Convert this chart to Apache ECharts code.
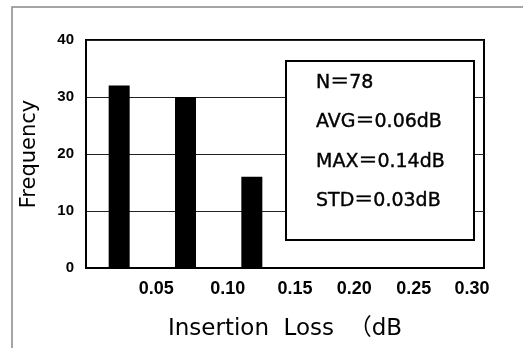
<!DOCTYPE html>
<html>
<head>
<meta charset="utf-8">
<script src="https://cdn.jsdelivr.net/npm/echarts@6/dist/echarts.min.js"></script>
<style>html,body{margin:0;padding:0;background:#fff}#c{width:523px;height:348px}</style>
</head>
<body>
<div id="c"></div>
<script>
var binCenters = [0.025, 0.075, 0.125];
var frequencies = [32, 30, 16];
var xTicks = [0.05, 0.10, 0.15, 0.20, 0.25, 0.30];
var yTicks = [0, 10, 20, 30, 40];
var statsLines = ['N＝78', 'AVG＝0.06dB', 'MAX＝0.14dB', 'STD＝0.03dB'];
var xTitle = 'Insertion  Loss  （dB';
var yTitle = 'Frequency';

// small horizontal nudges of the printed tick labels (scan distortion in the source)
var labelNudge = [4, 9, 10, 3, -4, -12];

var chart = echarts.init(document.getElementById('c'), null, {renderer: 'canvas'});
var barData = binCenters.map(function (c, i) { return [c, frequencies[i]]; });

var rich = {};
labelNudge.forEach(function (n, i) {
  rich['p' + i] = {
    color: '#000', fontSize: 18, fontWeight: 'bold', fontFamily: '"Liberation Sans", Arial, sans-serif',
    padding: n >= 0 ? [0, 0, 0, 2 * n] : [0, -2 * n, 0, 0]
  };
});

var graphics = [
  {type: 'rect', shape: {x: 12, y: 7, width: 600, height: 400}, style: {fill: 'none', stroke: '#888', lineWidth: 1.5}, z: 1},
  {type: 'rect', shape: {x: 286, y: 61, width: 188, height: 179}, style: {fill: '#fff', stroke: '#000', lineWidth: 2}, z: 100}
];
var lineYs = [83, 122, 162, 201];
statsLines.forEach(function (t, i) {
  graphics.push({type: 'text', x: 316, y: lineYs[i], z: 101,
    style: {text: t, fill: '#000', stroke: '#000', lineWidth: 0.4, font: '19px "DejaVu Sans", "Noto Sans CJK JP", sans-serif', textVerticalAlign: 'middle', verticalAlign: 'middle'}});
});

chart.setOption({
  animation: false,
  backgroundColor: '#fff',
  grid: {left: 86, right: 39, top: 40, bottom: 80, show: true, borderColor: '#000', borderWidth: 2, backgroundColor: 'transparent'},
  xAxis: {
    type: 'value', min: 0, max: 0.30, interval: 0.05,
    name: xTitle, nameLocation: 'middle', nameGap: 50,
    nameTextStyle: {fontSize: 23, color: '#000', fontFamily: '"DejaVu Sans", "Noto Sans CJK JP", sans-serif'},
    axisLine: {show: true, lineStyle: {color: '#000', width: 2}},
    axisTick: {show: false},
    splitLine: {show: false},
    axisLabel: {color: '#000', fontSize: 18, fontWeight: 'bold', fontFamily: '"Liberation Sans", Arial, sans-serif', margin: 12,
      rich: rich,
      formatter: function (v) {
        for (var i = 0; i < xTicks.length; i++) {
          if (Math.abs(xTicks[i] - v) < 1e-9) return '{p' + i + '|' + v.toFixed(2) + '}';
        }
        return '';
      }}
  },
  yAxis: {
    type: 'value', min: yTicks[0], max: yTicks[yTicks.length - 1], interval: 10,
    name: yTitle, nameLocation: 'middle', nameGap: 46, nameRotate: 90,
    nameTextStyle: {fontSize: 21, color: '#000', fontFamily: '"DejaVu Sans", sans-serif'},
    axisLine: {show: true, lineStyle: {color: '#000', width: 2}},
    axisTick: {show: false},
    splitLine: {show: true, lineStyle: {color: '#222', width: 1}},
    axisLabel: {color: '#000', fontSize: 15, fontWeight: 'bold', fontFamily: '"Liberation Sans", Arial, sans-serif', margin: 12}
  },
  series: [{
    type: 'bar', data: barData, barWidth: 21,
    itemStyle: {color: '#000'}
  }],
  graphic: graphics
});
</script>
</body>
</html>
